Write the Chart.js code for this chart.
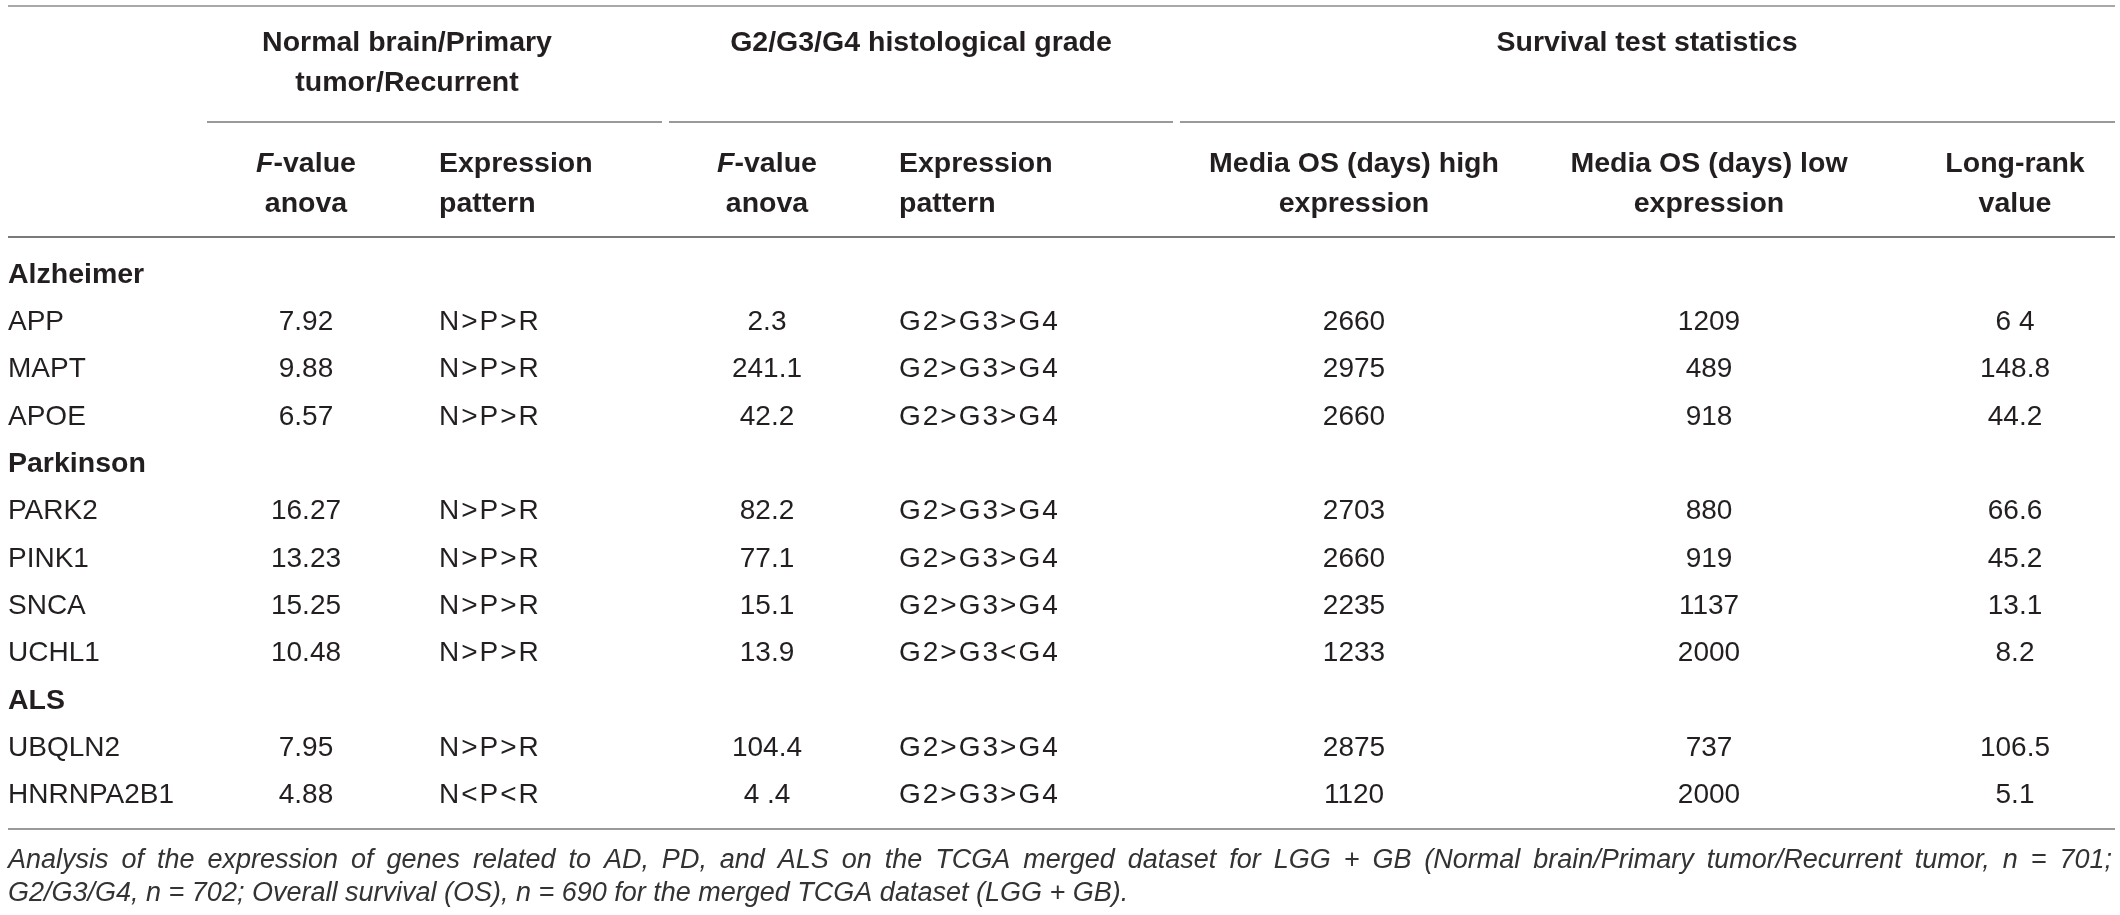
<!DOCTYPE html>
<html>
<head>
<meta charset="utf-8">
<script src="https://cdn.jsdelivr.net/npm/chart.js@4.4.1/dist/chart.umd.min.js"></script>
<style>
  html, body { margin: 0; padding: 0; background: #fff; }
  #wrap { width: 2120px; height: 915px; }
</style>
</head>
<body>
<div id="wrap"><canvas id="myChart" width="2120" height="915"></canvas></div>
<script>
// table content
const groupNames = ["Alzheimer", "Parkinson", "ALS"];
const groupSizes = [3, 4, 2];
const genes = ["APP", "MAPT", "APOE", "PARK2", "PINK1", "SNCA", "UCHL1", "UBQLN2", "HNRNPA2B1"];
const fNormal = ["7.92", "9.88", "6.57", "16.27", "13.23", "15.25", "10.48", "7.95", "4.88"];
const patternNormal = ["N>P>R", "N>P>R", "N>P>R", "N>P>R", "N>P>R", "N>P>R", "N>P>R", "N>P>R", "N<P<R"];
const fGrade = ["2.3", "241.1", "42.2", "82.2", "77.1", "15.1", "13.9", "104.4", "4 .4"];
const patternGrade = ["G2>G3>G4", "G2>G3>G4", "G2>G3>G4", "G2>G3>G4", "G2>G3>G4", "G2>G3>G4", "G2>G3<G4", "G2>G3>G4", "G2>G3>G4"];
const osHigh = ["2660", "2975", "2660", "2703", "2660", "2235", "1233", "2875", "1120"];
const osLow = ["1209", "489", "918", "880", "919", "1137", "2000", "737", "2000"];
const logRank = ["6 4", "148.8", "44.2", "66.6", "45.2", "13.1", "8.2", "106.5", "5.1"];

const groupHeaders = [["Normal brain/Primary", "tumor/Recurrent"], ["G2/G3/G4 histological grade"], ["Survival test statistics"]];
const columnHeaders = [
  ["*F*-value", "anova"], ["Expression", "pattern"],
  ["*F*-value", "anova"], ["Expression", "pattern"],
  ["Media OS (days) high", "expression"], ["Media OS (days) low", "expression"], ["Long-rank", "value"]
];
const captionLine1 = "Analysis of the expression of genes related to AD, PD, and ALS on the TCGA merged dataset for LGG + GB (Normal brain/Primary tumor/Recurrent tumor, n = 701;";
const captionLine2 = "G2/G3/G4, n = 702; Overall survival (OS), n = 690 for the merged TCGA dataset (LGG + GB).";

// layout / styles
const FONT = "'Liberation Sans', Arial, Helvetica, sans-serif";
const INK = "#231f20";
const columns = [
  { x: 306, align: "center", spacing: 0 },
  { x: 439, align: "left", spacing: 2 },
  { x: 767, align: "center", spacing: 0 },
  { x: 899, align: "left", spacing: 2 },
  { x: 1354, align: "center", spacing: 0 },
  { x: 1709, align: "center", spacing: 0 },
  { x: 2015, align: "center", spacing: 0 }
];
const labelX = 8;
const groupHeaderPos = [{ x: 407, lines: [51, 91] }, { x: 921, lines: [51] }, { x: 1647, lines: [51] }];
const colHeaderLines = [172, 212];
const rules = [
  { y: 6, x0: 8, x1: 2115, color: "#a8a8a8" },
  { y: 122, x0: 207, x1: 662, color: "#9a9a9a" },
  { y: 122, x0: 669, x1: 1173, color: "#9a9a9a" },
  { y: 122, x0: 1180, x1: 2115, color: "#9a9a9a" },
  { y: 237, x0: 8, x1: 2115, color: "#7a7a7a" },
  { y: 829, x0: 8, x1: 2115, color: "#9a9a9a" }
];

// row order: group label followed by its genes
const rowKeys = [];
let gi = 0;
groupNames.forEach((g, k) => {
  rowKeys.push(g);
  for (let j = 0; j < groupSizes[k]; j++) rowKeys.push(genes[gi++]);
});

const valueColumns = [fNormal, patternNormal, fGrade, patternGrade, osHigh, osLow, logRank];

const datasets = [
  { texts: groupNames, bold: true, align: "left", spacing: 0,
    data: groupNames.map(g => ({ x: labelX, y: g })) },
  { texts: genes, bold: false, align: "left", spacing: 0,
    data: genes.map(g => ({ x: labelX, y: g })) }
].concat(valueColumns.map((vals, c) => ({
  texts: vals, bold: false, align: columns[c].align, spacing: columns[c].spacing,
  data: genes.map(g => ({ x: columns[c].x, y: g }))
})));
datasets.forEach(d => { d.pointRadius = 0; d.pointHoverRadius = 0; });

function drawRich(ctx, str, x, y, size) {
  // "*F*" segments are bold italic, rest bold
  const parts = str.split("*").filter((p, i) => p.length || i % 2 === 0);
  const segs = [];
  str.split("*").forEach((p, i) => { if (p) segs.push({ t: p, it: i % 2 === 1 }); });
  let w = 0;
  segs.forEach(s => {
    ctx.font = (s.it ? "italic " : "") + "bold " + size + "px " + FONT;
    s.w = ctx.measureText(s.t).width; w += s.w;
  });
  let cx = x - w / 2;
  ctx.textAlign = "left";
  segs.forEach(s => {
    ctx.font = (s.it ? "italic " : "") + "bold " + size + "px " + FONT;
    ctx.fillText(s.t, cx, y); cx += s.w;
  });
}

const tablePlugin = {
  id: "tableText",
  afterDatasetsDraw(chart) {
    const ctx = chart.ctx;
    ctx.save();
    ctx.fillStyle = INK;
    ctx.textBaseline = "alphabetic";
    chart.data.datasets.forEach((ds, i) => {
      const meta = chart.getDatasetMeta(i);
      ctx.font = (ds.bold ? "bold 28.5px " : "28px ") + FONT;
      ctx.textAlign = ds.align;
      ctx.letterSpacing = ds.spacing + "px";
      meta.data.forEach((el, j) => ctx.fillText(ds.texts[j], el.x, el.y));
    });
    ctx.letterSpacing = "0px";

    // rules
    rules.forEach(r => {
      ctx.strokeStyle = r.color; ctx.lineWidth = 2;
      ctx.beginPath(); ctx.moveTo(r.x0, r.y); ctx.lineTo(r.x1, r.y); ctx.stroke();
    });

    // spanning headers
    ctx.font = "bold 28.5px " + FONT;
    ctx.textAlign = "center";
    groupHeaders.forEach((lines, k) => {
      lines.forEach((t, l) => ctx.fillText(t, groupHeaderPos[k].x, groupHeaderPos[k].lines[l]));
    });

    // column headers
    columnHeaders.forEach((lines, c) => {
      const col = columns[c];
      lines.forEach((t, l) => {
        const y = colHeaderLines[l];
        if (col.align === "left") {
          ctx.font = "bold 28.5px " + FONT; ctx.textAlign = "left";
          ctx.fillText(t, col.x, y);
        } else {
          drawRich(ctx, t, col.x, y, 28.5);
        }
      });
    });

    // caption, first line justified
    ctx.fillStyle = "#333";
    ctx.font = "italic 27px " + FONT;
    ctx.textAlign = "left";
    const words = captionLine1.split(" ");
    const widths = words.map(w => ctx.measureText(w).width);
    const total = widths.reduce((a, b) => a + b, 0);
    const gap = (2112 - 8 - total) / (words.length - 1);
    let cx = 8;
    words.forEach((w, k) => { ctx.fillText(w, cx, 868); cx += widths[k] + gap; });
    ctx.fillText(captionLine2, 8, 901);
    ctx.restore();
  }
};

new Chart("myChart", {
  type: "scatter",
  data: { datasets: datasets },
  options: {
    responsive: false,
    animation: false,
    devicePixelRatio: 1,
    layout: { padding: { top: 259, bottom: 88, left: 0, right: 0 } },
    plugins: { legend: { display: false }, tooltip: { enabled: false } },
    scales: {
      x: { type: "linear", min: 0, max: 2120, display: false },
      y: { type: "category", labels: rowKeys, offset: true, display: false }
    }
  },
  plugins: [tablePlugin]
});
</script>
</body>
</html>
